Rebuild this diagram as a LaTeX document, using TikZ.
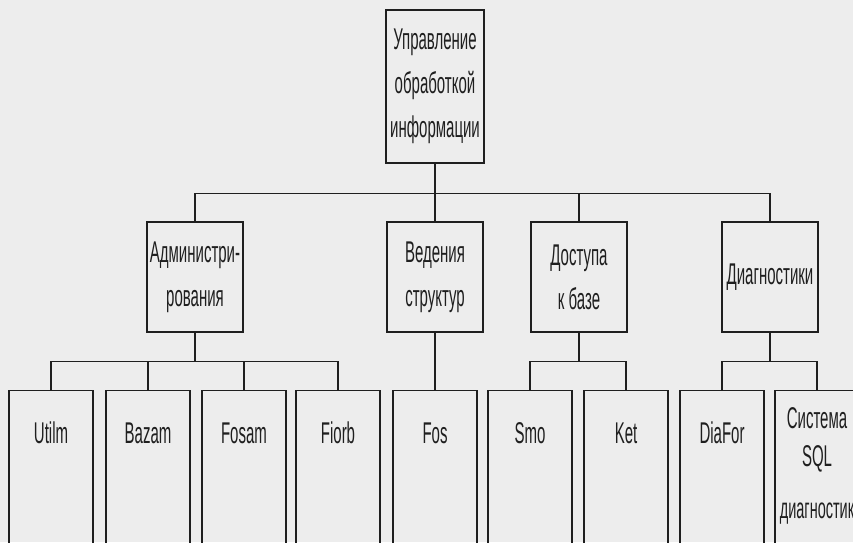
\documentclass[tikz,border=0pt]{standalone}
\usepackage{fontspec}
\setmainfont{Liberation Sans}[FakeStretch=0.5]
\definecolor{paper}{gray}{0.93}
\definecolor{ink}{gray}{0.12}
\begin{document}
\begin{tikzpicture}[x=1pt,y=1pt,line width=1.1pt,box/.style={shape=rectangle,draw=ink,text=ink,align=center,inner sep=0,font=\fontsize{30}{44}\selectfont},root/.style={box,minimum width=98,minimum height=153},mid/.style={box,minimum width=96,minimum height=110},leaf/.style={box,anchor=north,minimum width=84,text height=53,text depth=160},wire/.style={draw=ink}]
\def\ym{-277};
\def\yl{-390};
\def\dh{-29};

\useasboundingbox (0,0) rectangle (853,-542);
\fill[paper] (0,0) rectangle (853,-542);

\node[root] (ctrl) at (435,-86.5) {Управление\\обработкой\\информации};

\node[mid] (adm) at (195,\ym) {Администри-\\рования};
\node[mid] (ved) at (435,\ym) {Ведения\\структур};
\node[mid] (acc) at (579,\ym) {Доступа\\к базе};
\node[mid] (diag) at (770,\ym) {Диагностики};

\node[leaf] (utilm) at (51,\yl) {Utilm};
\node[leaf] (bazam) at (148,\yl) {Bazam};
\node[leaf] (fosam) at (244,\yl) {Fosam};
\node[leaf] (fiorb) at (338,\yl) {Fiorb};
\node[leaf] (fos) at (435,\yl) {Fos};
\node[leaf] (smo) at (530,\yl) {Smo};
\node[leaf] (ket) at (626,\yl) {Ket};
\node[leaf] (diafor) at (722,\yl) {DiaFor};
\node[leaf,text height=128,text depth=90] (sqldiag) at (817,\yl) {Система\\[-6pt]SQL\\[8pt]{\fontsize{29}{30}\selectfont диагностик}};

\path (ctrl.south) ++(0,-30) coordinate (hub);
\draw[wire] (ctrl.south) -- (hub);
\draw[wire] (adm.north) |- (hub) -| (diag.north);
\draw[wire] (hub) -- (ved.north);
\draw[wire] (acc.north) -- (acc.north |- hub);

\path (adm.south) ++(0,\dh) coordinate (admhub);
\draw[wire] (adm.south) -- (admhub);
\draw[wire] (utilm.north) |- (admhub) -| (fiorb.north);
\draw[wire] (bazam.north) -- (bazam.north |- admhub);
\draw[wire] (fosam.north) -- (fosam.north |- admhub);

\draw[wire] (ved.south) -- (fos.north);

\path (acc.south) ++(0,\dh) coordinate (acchub);
\draw[wire] (acc.south) -- (acchub);
\draw[wire] (smo.north) |- (acchub) -| (ket.north);

\path (diag.south) ++(0,\dh) coordinate (diaghub);
\draw[wire] (diag.south) -- (diaghub);
\draw[wire] (diafor.north) |- (diaghub) -| (sqldiag.north);
\end{tikzpicture}
\end{document}
